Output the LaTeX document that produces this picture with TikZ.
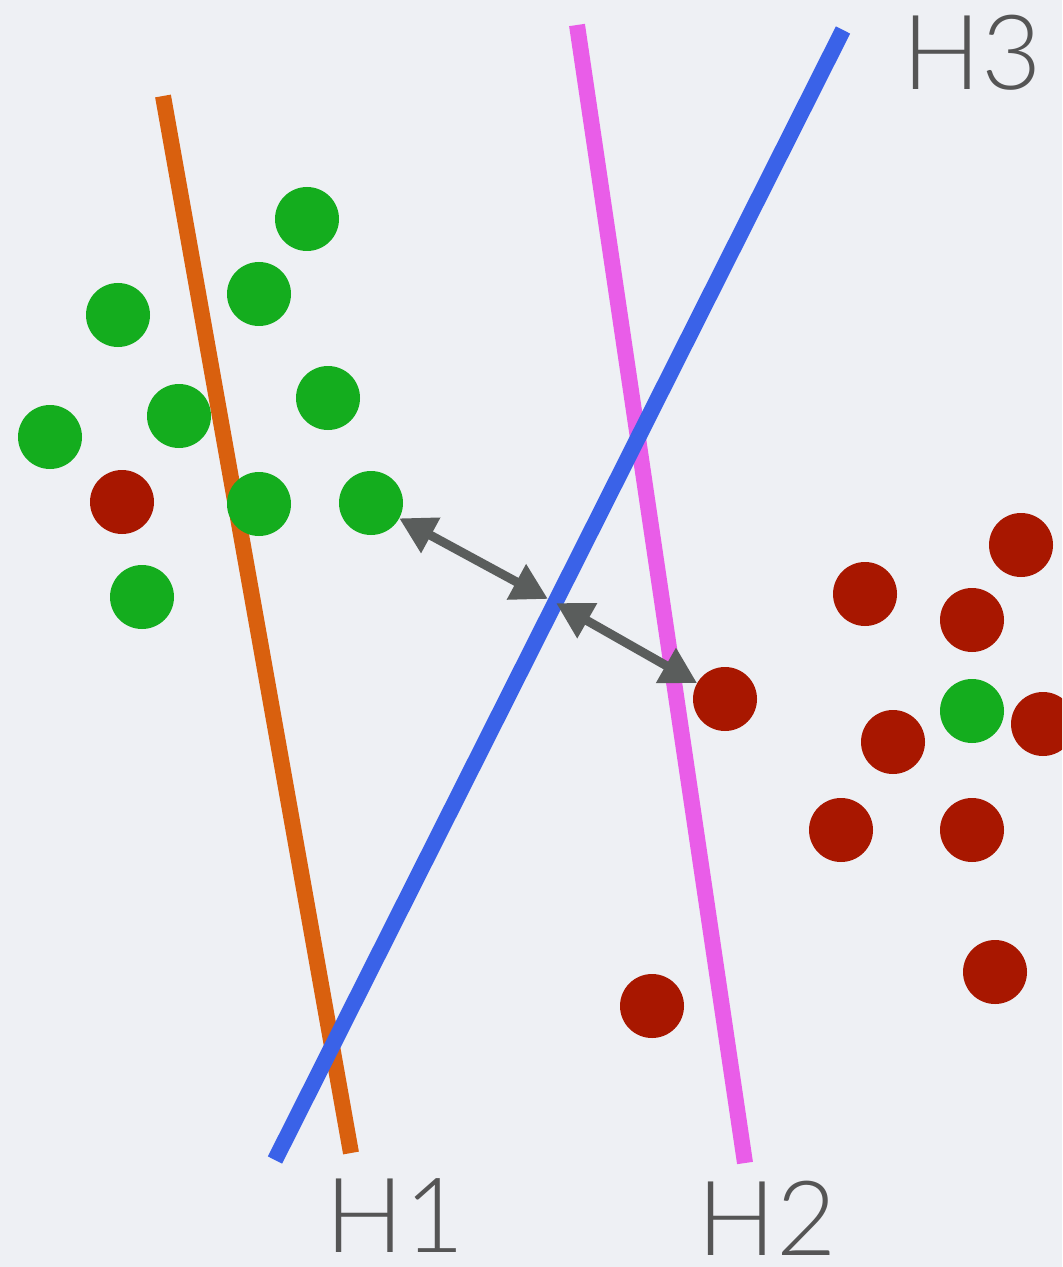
\documentclass[tikz,border=0pt]{standalone}
\usepackage{fontspec}
\setmainfont{Lato}
\newfontfamily\labfont{Lato Light}
\usetikzlibrary{arrows.meta}
\definecolor{bg}{HTML}{EEF0F4}
\definecolor{gdot}{HTML}{14AD1E}
\definecolor{rdot}{HTML}{A81700}
\definecolor{horange}{HTML}{D9600E}
\definecolor{hpink}{HTML}{E95DE8}
\definecolor{hblue}{HTML}{3A62E8}
\definecolor{agray}{HTML}{5A5D5C}
\definecolor{tgray}{HTML}{555555}
\begin{document}
\begin{tikzpicture}[x=0.5pt,y=-0.5pt,
  dot/.style={circle,minimum size=32pt,inner sep=0pt,outer sep=0pt},
  gd/.style={dot,fill=gdot},
  rd/.style={dot,fill=rdot},
  hyp/.style={line width=8pt,line cap=butt},
  lab/.style={text=tgray,font=\labfont\fontsize{52}{60}\selectfont,inner sep=0pt},
  dist/.style={draw=agray,line width=4.5pt,{Triangle[length=18pt,width=19pt]}-{Triangle[length=18pt,width=19pt]}}]
\fill[bg] (0,0) rectangle (1062,1267);
\useasboundingbox (0,0) rectangle (1062,1267);
\begin{scope}
\clip (0,0) rectangle (1062,1267);
% hyperplanes
\coordinate (o1) at (163,96); \coordinate (o2) at (351,1153);
\coordinate (p1) at (577,25); \coordinate (p2) at (745,1163);
\coordinate (b1) at (843,30); \coordinate (b2) at (275,1160);
\draw[hyp,horange] (o1) -- (o2);
\draw[hyp,hpink] (p1) -- (p2);
\draw[hyp,hblue] (b1) -- (b2);
% green points
\node[gd] (g1) at (307,219) {};
\node[gd] (g2) at (259,294) {};
\node[gd] (g3) at (118,315) {};
\node[gd] (g4) at (179,416) {};
\node[gd] (g5) at (328,398) {};
\node[gd] (g6) at (50,437) {};
\node[gd] (g7) at (259,504) {};
\node[gd] (g8) at (371,503) {};
\node[gd] (g9) at (142,597) {};
\node[gd] (g10) at (972,711) {};
% red points
\node[rd] (r1) at (122,502) {};
\node[rd] (r2) at (1021,545) {};
\node[rd] (r3) at (865,594) {};
\node[rd] (r4) at (972,620) {};
\node[rd] (r5) at (725,699) {};
\node[rd] (r6) at (893,742) {};
\node[rd] (r7) at (1043,724) {};
\node[rd] (r8) at (841,830) {};
\node[rd] (r9) at (972,830) {};
\node[rd] (r10) at (995,972) {};
\node[rd] (r11) at (652,1006) {};
% margin arrows
\coordinate (ma) at (548,599);
\coordinate (mb) at (556,603);
\draw[dist] (g8) -- (ma);
\draw[dist] (mb) -- (r5);
\end{scope}
% labels
\node[lab] (h1) at (395,1216) {H1};
\node[lab] (h2) at (767,1218) {H2};
\node[lab] (h3) at (972,53) {H3};
\end{tikzpicture}
\end{document}
